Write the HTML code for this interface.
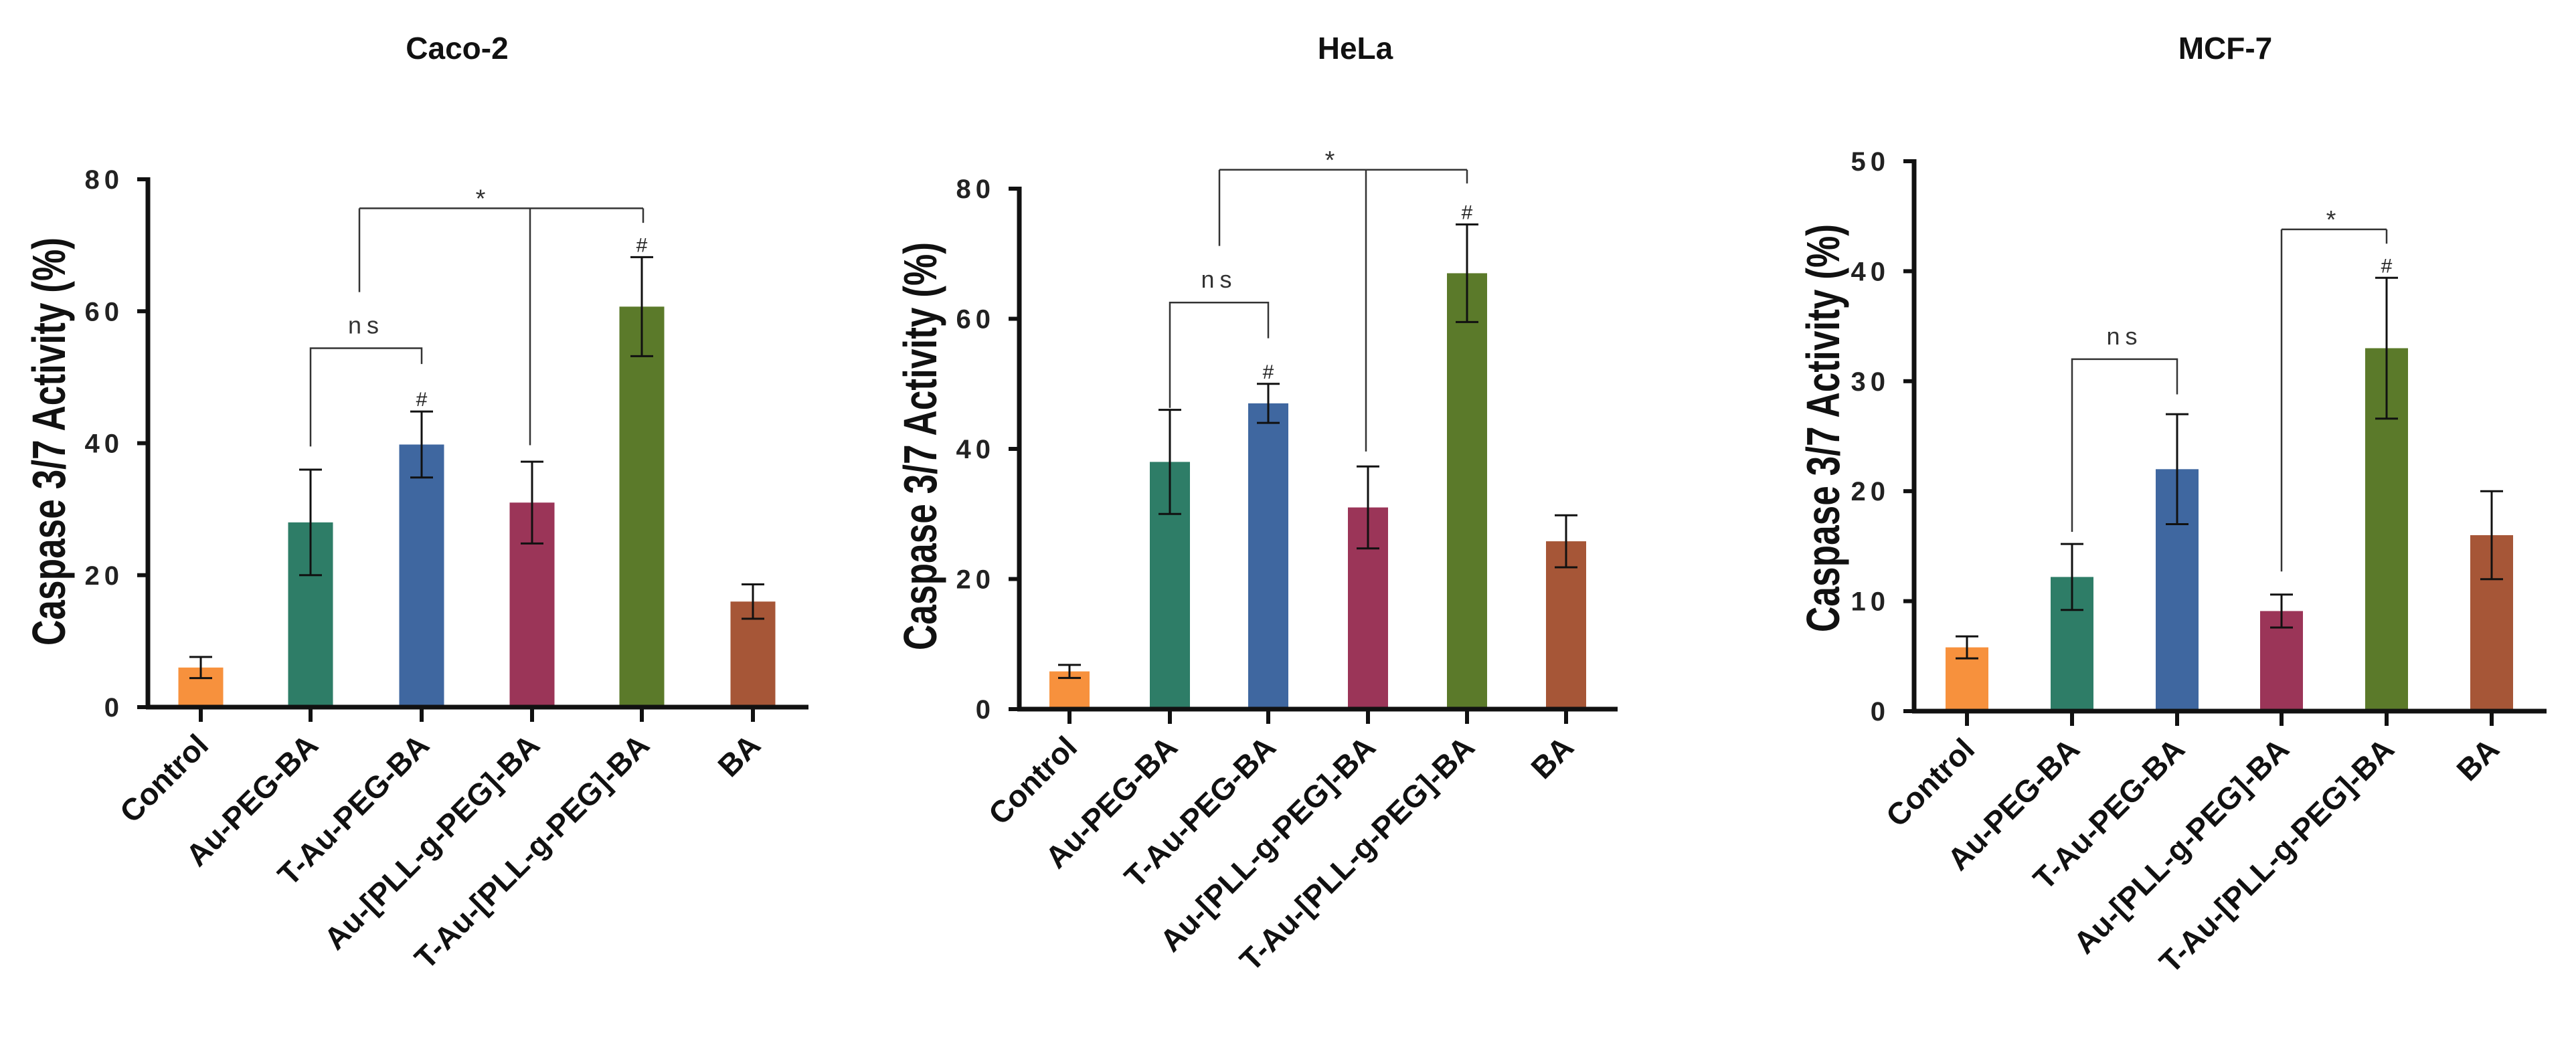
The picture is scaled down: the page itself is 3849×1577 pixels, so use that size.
<!DOCTYPE html>
<html><head><meta charset="utf-8"><style>
html,body{margin:0;padding:0;background:#fff}
svg{display:block}
text{font-family:"Liberation Sans",Arial,sans-serif}
</style></head><body>
<svg id="fig" width="3849" height="1577" xmlns="http://www.w3.org/2000/svg"></svg>
<script>
const categories = ["Control","Au-PEG-BA","T-Au-PEG-BA","Au-[PLL-g-PEG]-BA","T-Au-[PLL-g-PEG]-BA","BA"];
const colors = ["#f7913d","#2e7d67","#3f67a0","#9b3558","#5b7a2a","#a65637"];
const cacoValues = [6, 28, 39.8, 31, 60.7, 16];
const cacoErrors = [1.6, 8, 5, 6.2, 7.5, 2.6];
const cacoTicks = [0,20,40,60,80];
const helaValues = [5.8, 38, 47, 31, 67, 25.8];
const helaErrors = [1, 8, 3, 6.3, 7.5, 4];
const helaTicks = [0,20,40,60,80];
const mcfValues = [5.8, 12.2, 22, 9.1, 33, 16];
const mcfErrors = [1, 3, 5, 1.5, 6.4, 4];
const mcfTicks = [0,10,20,30,40,50];

const NS="http://www.w3.org/2000/svg";
const svg=document.getElementById('fig');
function mk(tag,attrs,parent,txt){const e=document.createElementNS(NS,tag);for(const k in attrs)e.setAttribute(k,attrs[k]);if(txt!==undefined)e.textContent=txt;(parent||svg).appendChild(e);return e;}

const charts=[
 {name:"caco-2",title:"Caco-2",vals:cacoValues,errs:cacoErrors,ticks:cacoTicks,max:80,ax:221,top:268,zero:1057,xs:[300,464,630,795,959,1125],bw:67,xend:1208,tx:683,ylx:73,yly:660,
  ns:{a:1,b:2,y:54.4,la:39.5,lb:52},star:{pts:[[537,62.9],[792,39.7],[961,73.4]],y:75.6,tx:718},hash:[2,4]},
 {name:"hela",title:"HeLa",vals:helaValues,errs:helaErrors,ticks:helaTicks,max:80,ax:1523,top:282,zero:1060,xs:[1598,1748,1895,2044,2192,2340],bw:60,xend:2417,tx:2025,ylx:1375,yly:667,
  ns:{a:1,b:2,y:62.5,la:46.3,lb:57},star:{pts:[[1822,71.2],[2041,39.6],[2192,80.8]],y:82.9,tx:1987},hash:[2,4]},
 {name:"mcf-7",title:"MCF-7",vals:mcfValues,errs:mcfErrors,ticks:mcfTicks,max:50,ax:2860,top:241,zero:1063,xs:[2939,3096,3253,3409,3566,3723],bw:64,xend:3805,tx:3325,ylx:2724,yly:640,
  ns:{a:1,b:2,y:32,la:16.3,lb:28.8},star:{pts:[[3409,12.7],[3566,42.5]],y:43.8,tx:3483},hash:[4]}
];

charts.forEach(c=>{
  const g=mk('g',{});
  
  
  const y=v=>c.zero-(v/c.max)*(c.zero-c.top);
  const t=mk('text',{x:c.tx,y:88,'text-anchor':'middle','font-size':46,'font-weight':'bold',fill:'#111'},g,c.title);
  
  
  const yl=mk('text',{x:0,y:0,transform:`translate(${c.ylx+24},${c.yly}) rotate(-90)`,'text-anchor':'middle','font-size':70,'font-weight':'bold',fill:'#111',textLength:610,lengthAdjust:'spacingAndGlyphs'},g,"Caspase 3/7 Activity (%)");
  
  
  c.vals.forEach((v,i)=>{
    const x=c.xs[i];
    const r=mk('rect',{x:x-c.bw/2,y:y(v),width:c.bw,height:c.zero-y(v),fill:colors[i]},g);
    
    
    const e=c.errs[i];
    const eg=mk('g',{stroke:'#111','stroke-width':3,fill:'none'},g);
    
    
    mk('line',{x1:x,x2:x,y1:y(v+e),y2:y(v-e)},eg);
    mk('line',{x1:x-17,x2:x+17,y1:y(v+e),y2:y(v+e)},eg);
    mk('line',{x1:x-17,x2:x+17,y1:y(v-e),y2:y(v-e)},eg);
    mk('line',{x1:x,x2:x,y1:c.zero,y2:c.zero+22,stroke:'#111','stroke-width':6},g);
    const lb=mk('text',{x:0,y:0,transform:`translate(${x+14},${c.zero+60}) rotate(-45)`,'text-anchor':'end','font-size':46,'font-weight':'bold',fill:'#111'},g,categories[i]);
    
    
  });
  c.hash.forEach(i=>{
    const h=mk('text',{x:c.xs[i],y:y(c.vals[i]+c.errs[i])-8,'text-anchor':'middle','font-size':30,fill:'#222'},g,'#');
    
    
  });
  mk('line',{x1:c.ax,x2:c.ax,y1:c.top-3,y2:c.zero+3,stroke:'#111','stroke-width':7},g);
  mk('line',{x1:c.ax-3,x2:c.xend,y1:c.zero,y2:c.zero,stroke:'#111','stroke-width':7},g);
  c.ticks.forEach(tv=>{
    mk('line',{x1:c.ax-16,x2:c.ax,y1:y(tv),y2:y(tv),stroke:'#111','stroke-width':6},g);
    const tl=mk('text',{x:c.ax-36,y:y(tv)+14,'text-anchor':'end','font-size':40,'font-weight':'bold',fill:'#222','letter-spacing':7},g,String(tv));
    
    
  });
  const n=c.ns, xa=c.xs[n.a], xb=c.xs[n.b];
  const nb=mk('path',{d:`M${xa},${y(n.la)}V${y(n.y)}H${xb}V${y(n.lb)}`,stroke:'#333','stroke-width':2.5,fill:'none'},g);
  
  
  const nt=mk('text',{x:(xa+xb)/2,y:y(n.y)-22,'text-anchor':'middle','font-size':36,fill:'#333','letter-spacing':8},g,'ns');
  
  
  const s=c.star, p=s.pts;
  let d=`M${p[0][0]},${y(s.y)}H${p[p.length-1][0]}`;
  p.forEach(q=>{d+=`M${q[0]},${y(s.y)}V${y(q[1])}`;});
  const sb=mk('path',{d:d,stroke:'#333','stroke-width':2.5,fill:'none'},g);
  
  
  const st=mk('text',{x:s.tx,y:y(s.y)-2,'text-anchor':'middle','font-size':38,fill:'#333'},g,'*');
  
  
});
</script>
</body></html>
